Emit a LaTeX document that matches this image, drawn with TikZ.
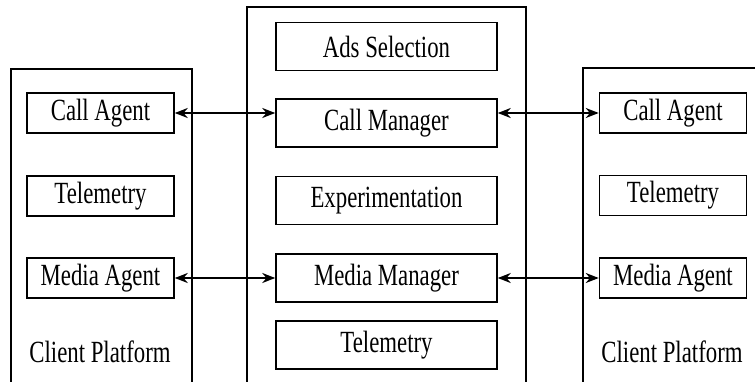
\documentclass[tikz,border=0pt]{standalone}
\usepackage{fontspec}
\setmainfont{Liberation Serif}[FakeStretch=0.74]
\usetikzlibrary{arrows.meta, positioning}
\tikzset{
  frame/.style={draw=black, line width=1pt, rectangle, inner sep=0pt},
  unit/.style={draw=black, line width=0.75pt, rectangle, inner sep=0pt, font=\fontsize{15.4}{18}\selectfont},
  sunit/.style={unit, minimum width=73.5pt, minimum height=20pt},
  munit/.style={unit, minimum width=110.5pt, minimum height=24pt},
  link/.style={draw=black, line width=1pt, {Stealth[length=6.5pt,width=5pt]}-{Stealth[length=6.5pt,width=5pt]}},
  caption/.style={font=\fontsize{15.4}{18}\selectfont, inner sep=0pt}
}
\begin{document}
\begin{tikzpicture}[x=0.5pt, y=-0.5pt]
  \clip (0,0) rectangle (755,381);
  % platforms and the core service
  \node [frame, minimum width=90.5pt, minimum height=157.5pt] (lplat) at (101.5,226.5) {};
  \node [frame, minimum width=139.5pt, minimum height=188.5pt] (core) at (386.5,195.5) {};
  \node [frame, minimum width=98.5pt, minimum height=158pt] (rplat) at (681.5,226) {};

  % left client
  \node [sunit] (lcall) at (100.5,113) {Call Agent};
  \node [sunit] (ltel) at (100.5,196) {Telemetry};
  \node [sunit] (lmedia) at (100.5,278) {Media Agent};
  \node [caption] (lname) at (100,352) {Client Platform};

  % core
  \node [munit] (ads) at (386.5,46.5) {Ads Selection};
  \node [munit] (callmgr) at (386.5,123) {Call Manager};
  \node [munit] (exp) at (386.5,200.5) {Experimentation};
  \node [munit] (mediamgr) at (386.5,278) {Media Manager};
  \node [munit] (ctel) at (386.5,345) {Telemetry};

  % right client
  \node [sunit] (rcall) at (673,113) {Call Agent};
  \node [sunit] (rtel) at (673,195.5) {Telemetry};
  \node [sunit] (rmedia) at (673,278) {Media Agent};
  \node [caption] (rname) at (672,352) {Client Platform};

  \draw [link] (lcall.east) -- (lcall.east -| callmgr.west);
  \draw [link] (callmgr.east |- rcall.west) -- (rcall.west);
  \draw [link] (lmedia) -- (mediamgr);
  \draw [link] (mediamgr) -- (rmedia);
\end{tikzpicture}
\end{document}
